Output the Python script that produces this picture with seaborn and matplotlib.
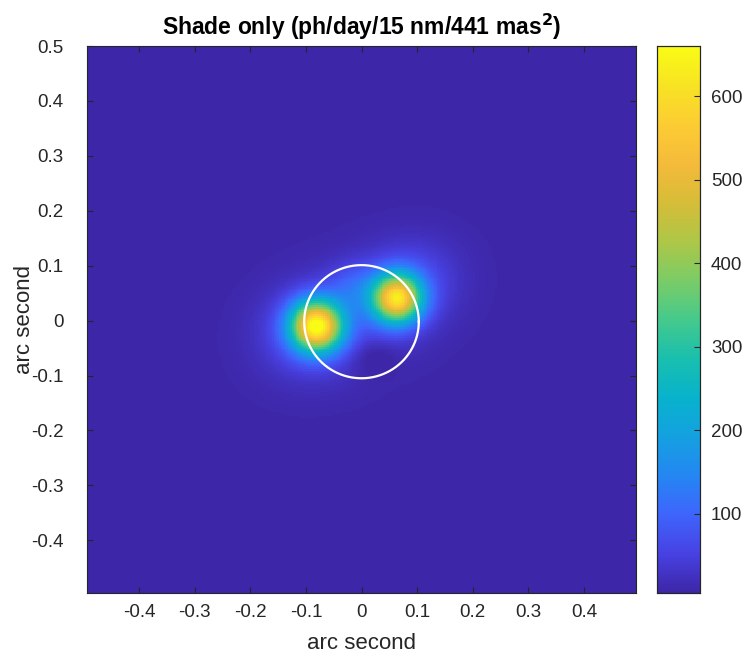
import numpy as np
import pandas as pd
import matplotlib
matplotlib.use("Agg")
import matplotlib.pyplot as plt
from matplotlib.colors import LinearSegmentedColormap
import seaborn as sns

# ---- data ----
title = "Shade only (ph/day/15 nm/441 mas$^\\mathbf{2}$)"
x_label = "arc second"
y_label = "arc second"
x_range = [-0.4935, 0.4935]
y_range = [-0.4960, 0.5000]
x_ticks = [-0.4, -0.3, -0.2, -0.1, 0, 0.1, 0.2, 0.3, 0.4]
y_ticks = [-0.4, -0.3, -0.2, -0.1, 0, 0.1, 0.2, 0.3, 0.4, 0.5]
cbar_ticks = [100, 200, 300, 400, 500, 600]
c_min, c_max = 5, 660
background = 5

# emission components: centre, amplitude, widths, tilt (deg)
comp_x = [-0.081, 0.064, -0.010, -0.015, 0.085, -0.100, 0.020]
comp_y = [-0.010, 0.041, 0.010, 0.060, 0.065, -0.020, -0.065]
comp_amp = [600, 550, 45, 55, 55, 55, -30]
comp_sx = [0.031, 0.030, 0.100, 0.030, 0.060, 0.058, 0.030]
comp_sy = [0.031, 0.030, 0.065, 0.030, 0.052, 0.055, 0.025]
comp_ang = [0, 0, 25, 0, 30, 0, 0]

circle_x, circle_y, circle_r = 0.0, -0.002, 0.103

# ---- build the field ----
N = 300
xs = np.linspace(x_range[0], x_range[1], N)
ys = np.linspace(y_range[1], y_range[0], N)  # top row = highest y
X, Y = np.meshgrid(xs, ys)
Z = np.full_like(X, background, dtype=float)
for cx, cy, a, sx, sy, ang in zip(comp_x, comp_y, comp_amp, comp_sx, comp_sy, comp_ang):
    t = np.deg2rad(ang)
    dx, dy = X - cx, Y - cy
    u = dx * np.cos(t) + dy * np.sin(t)
    v = -dx * np.sin(t) + dy * np.cos(t)
    Z += a * np.exp(-0.5 * ((u / sx) ** 2 + (v / sy) ** 2))
Z = np.clip(Z, c_min, None)
df = pd.DataFrame(Z, index=ys, columns=xs)

# parula colormap
parula_pts = [
    (0.2422, 0.1504, 0.6603), (0.2780, 0.2580, 0.8900), (0.2440, 0.3960, 0.9900),
    (0.1400, 0.5300, 0.9500), (0.0800, 0.6300, 0.8800), (0.0300, 0.7000, 0.8000),
    (0.1000, 0.7500, 0.6800), (0.2700, 0.7900, 0.5500), (0.4800, 0.8000, 0.4000),
    (0.6800, 0.7800, 0.2800), (0.8400, 0.7400, 0.2200), (0.9600, 0.7300, 0.2300),
    (0.9900, 0.8000, 0.2000), (0.9700, 0.8900, 0.1400), (0.9769, 0.9839, 0.0805),
]
parula = LinearSegmentedColormap.from_list("parula", parula_pts, N=256)

# ---- figure ----
W, H = 744, 663
fig = plt.figure(figsize=(W / 100, H / 100), dpi=100)
ax = fig.add_axes([87 / W, 1 - 593 / H, (636 - 87) / W, (593 - 46) / H])
cax = fig.add_axes([657 / W, 1 - 593 / H, (700 - 657) / W, (593 - 46) / H])

sns.heatmap(df, ax=ax, cmap=parula, vmin=c_min, vmax=c_max, cbar=True,
            cbar_ax=cax, xticklabels=False, yticklabels=False, rasterized=True)

def to_col(x):
    return (x - x_range[0]) / (x_range[1] - x_range[0]) * N

def to_row(y):
    return (y_range[1] - y) / (y_range[1] - y_range[0]) * N

th = np.linspace(0, 2 * np.pi, 400)
ax.plot(to_col(circle_x + circle_r * np.cos(th)),
        to_row(circle_y + circle_r * np.sin(th)), color="white", lw=1.6)
ax.set_xlim(0, N)
ax.set_ylim(N, 0)

font = "Liberation Sans"
tcol = "#262626"
tick_fs = 13.5
ax.set_xticks([to_col(v) for v in x_ticks])
ax.set_xticklabels([f"{v:g}" for v in x_ticks], fontfamily=font, fontsize=tick_fs, color=tcol, rotation=0)
ax.set_yticks([to_row(v) for v in y_ticks])
ax.set_yticklabels([f"{v:g}" for v in y_ticks], fontfamily=font, fontsize=tick_fs, color=tcol, rotation=0)
ax.tick_params(direction="in", length=4, width=0.8, color=tcol, top=True, right=True)
ax.tick_params(axis="x", pad=8)
ax.tick_params(axis="y", pad=17)
ax.set_xlabel(x_label, fontfamily=font, fontsize=16, color=tcol)
ax.set_ylabel(y_label, fontfamily=font, fontsize=16, color=tcol)
ax.xaxis.set_label_coords(0.5, (593 - 633) / 547)
ax.yaxis.set_label_coords((35 - 87) / 549, 0.5)
ax.set_title(title, fontfamily=font, fontsize=16.5, fontweight="bold", color="black", pad=8)
for s in ax.spines.values():
    s.set_visible(True)
    s.set_color(tcol)
    s.set_linewidth(0.8)

cax.set_yticks(cbar_ticks)
cax.set_yticklabels([str(v) for v in cbar_ticks], fontfamily=font, fontsize=tick_fs, color=tcol)
cax.tick_params(direction="in", length=4, width=0.8, color=tcol, pad=8)
for s in cax.spines.values():
    s.set_visible(True)
    s.set_color(tcol)
    s.set_linewidth(0.8)

fig.savefig("out.png", dpi=100)
